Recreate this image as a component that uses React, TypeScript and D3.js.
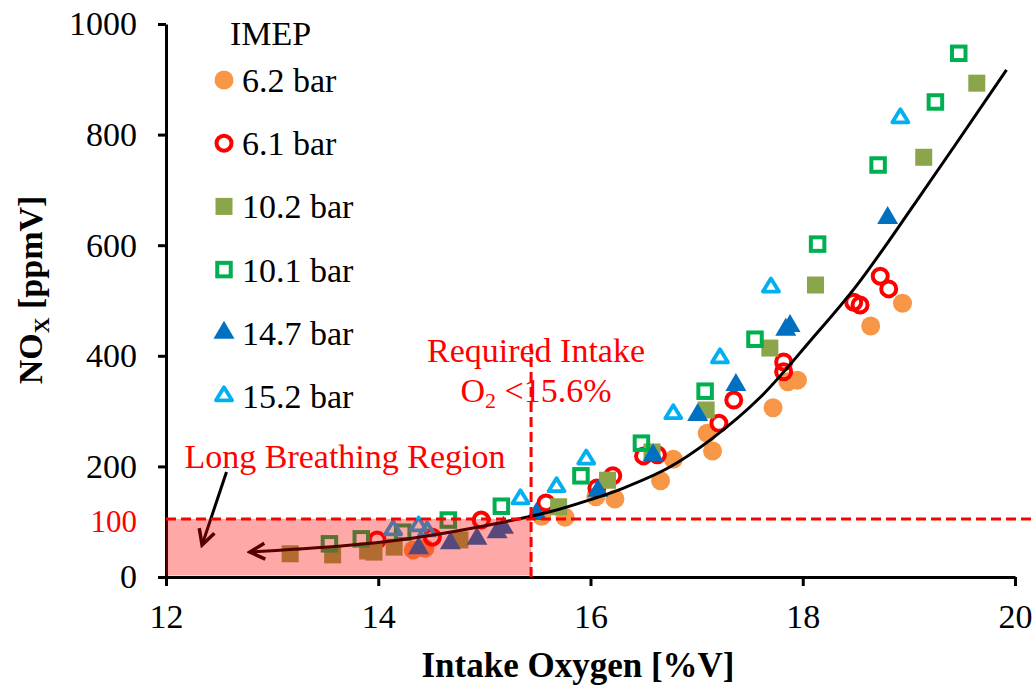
import { useEffect, useRef } from "react";
import * as d3 from "d3";

// intake O2 [%V], NOx [ppmV]
const imep62: [number, number][] = [
  [14.33, 49], [14.44, 52], [15.54, 110], [15.76, 108], [16.05, 145], [16.23, 141],
  [16.66, 174], [16.78, 213], [17.15, 228], [17.10, 260], [17.72, 306], [17.86, 353],
  [17.95, 356], [18.64, 454], [18.94, 495],
];
const imep61: [number, number][] = [
  [13.99, 67], [14.51, 72], [14.97, 103], [15.58, 134], [16.06, 161], [16.21, 183],
  [16.50, 219], [16.63, 221], [17.21, 278], [17.35, 320], [17.82, 371], [17.82, 389],
  [18.48, 497], [18.54, 492], [18.73, 544], [18.81, 521],
];
const imep102: [number, number][] = [
  [13.17, 42], [13.57, 40], [13.90, 47], [13.96, 45], [14.15, 54], [14.77, 67],
  [15.70, 127], [16.16, 175], [16.58, 226], [17.09, 302], [17.69, 414], [18.12, 528],
  [19.14, 759], [19.64, 893],
];
const imep101: [number, number][] = [
  [13.54, 60], [13.84, 69], [14.23, 81], [14.66, 103], [15.16, 128], [15.91, 183],
  [16.48, 242], [17.08, 336], [17.55, 430], [18.14, 602], [18.71, 745], [19.25, 859],
  [19.47, 947],
];
const imep147: [number, number][] = [
  [14.38, 52], [14.68, 61], [14.93, 69], [15.12, 81], [15.18, 89], [15.49, 114],
  [16.07, 156], [16.59, 220], [17.01, 293], [17.37, 347], [17.84, 447], [17.88, 454],
  [18.80, 649],
];
const imep152: [number, number][] = [
  [14.14, 85], [14.38, 92], [14.46, 83], [15.34, 141], [15.68, 163], [15.96, 213],
  [16.78, 295], [17.22, 396], [17.70, 524], [18.92, 830],
];

// trend line
const trend: [number, number][] = [
  [12.79, 45], [13.2, 50], [13.7, 57], [14.2, 67], [14.7, 82], [15.2, 100], [15.6, 117],
  [16.0, 140], [16.3, 160], [16.73, 197], [17.13, 248], [17.6, 325], [18.08, 429],
  [18.5, 525], [19.08, 682], [19.92, 917],
];

const xTicks = [12, 14, 16, 18, 20];
const yTicks = [0, 200, 400, 600, 800, 1000];
const legendLabels = ["6.2 bar", "6.1 bar", "10.2 bar", "10.1 bar", "14.7 bar", "15.2 bar"];

const requiredO2 = 15.44;
const noxLimit = 105;

const font = "'Liberation Serif', 'Times New Roman', serif";

type Shape = "circle" | "square" | "triangle";
const series = [
  { data: imep62, shape: "circle" as Shape, color: "#F79646", open: false },
  { data: imep61, shape: "circle" as Shape, color: "#FF0000", open: true },
  { data: imep102, shape: "square" as Shape, color: "#8BA54A", open: false },
  { data: imep101, shape: "square" as Shape, color: "#00B050", open: true },
  { data: imep147, shape: "triangle" as Shape, color: "#0070C0", open: false },
  { data: imep152, shape: "triangle" as Shape, color: "#00B0F0", open: true },
];

const drawMarker = (g: any, s: (typeof series)[number], cx: number, cy: number) => {
  if (s.shape === "circle") {
    g.append("circle")
      .attr("cx", cx)
      .attr("cy", cy)
      .attr("r", s.open ? 7.5 : 9.5)
      .attr("fill", s.open ? "none" : s.color)
      .attr("stroke", s.open ? s.color : "none")
      .attr("stroke-width", 4);
  } else if (s.shape === "square") {
    const sz = s.open ? 13.5 : 17;
    g.append("rect")
      .attr("x", cx - sz / 2)
      .attr("y", cy - sz / 2)
      .attr("width", sz)
      .attr("height", sz)
      .attr("fill", s.open ? "none" : s.color)
      .attr("stroke", s.open ? s.color : "none")
      .attr("stroke-width", 4);
  } else {
    const w = s.open ? 16 : 21;
    const h = s.open ? 13 : 18;
    const p = `M${cx},${cy - (h * 2) / 3}L${cx + w / 2},${cy + h / 3}L${cx - w / 2},${cy + h / 3}Z`;
    g.append("path")
      .attr("d", p)
      .attr("fill", s.open ? "none" : s.color)
      .attr("stroke", s.open ? s.color : "none")
      .attr("stroke-width", 3.8)
      .attr("stroke-linejoin", "round");
  }
};

const Chart = () => {
  const svgRef = useRef<SVGSVGElement | null>(null);

  useEffect(() => {
    const svg = d3.select(svgRef.current);
    svg.selectAll("*").remove();

    const x = d3.scaleLinear().domain([12, 20]).range([166, 1015]);
    const y = d3.scaleLinear().domain([0, 1000]).range([577, 24]);

    // open arrow head, tip at the path end
    const defs = svg.append("defs");
    defs
      .append("marker")
      .attr("id", "arr")
      .attr("viewBox", "-19 -10 22 20")
      .attr("refX", 0)
      .attr("refY", 0)
      .attr("markerUnits", "userSpaceOnUse")
      .attr("markerWidth", 22)
      .attr("markerHeight", 20)
      .attr("orient", "auto-start-reverse")
      .append("path")
      .attr("d", "M-15,-8L0,0L-15,8")
      .attr("fill", "none")
      .attr("stroke", "black")
      .attr("stroke-width", 3.5);

    // axes
    const yAxis = d3
      .axisLeft(y)
      .tickValues(yTicks)
      .tickSize(8)
      .tickSizeOuter(0)
      .tickPadding(21)
      .tickFormat((d: any) => String(d));
    const xAxis = d3
      .axisBottom(x)
      .tickValues(xTicks)
      .tickSize(9)
      .tickSizeOuter(0)
      .tickPadding(18)
      .tickFormat((d: any) => String(d));
    const gy = svg.append("g").attr("transform", `translate(166,0)`).call(yAxis);
    const gx = svg.append("g").attr("transform", `translate(0,577)`).call(xAxis);
    [gx, gy].forEach((g) => {
      g.attr("font-family", font);
      g.select(".domain").attr("stroke-width", 3);
      g.selectAll(".tick line").attr("stroke-width", 3);
      g.selectAll("text").attr("font-family", font).attr("font-size", 34).attr("fill", "black");
    });

    svg
      .append("text")
      .attr("x", 137)
      .attr("y", y(100))
      .attr("dy", "0.33em")
      .attr("text-anchor", "end")
      .attr("font-family", font)
      .attr("font-size", 31)
      .attr("fill", "#FF0000")
      .text("100");

    // data
    series.forEach((s) => {
      const g = svg.append("g");
      s.data.forEach(([dx, dy]) => drawMarker(g, s, x(dx), y(dy)));
    });

    const line = d3
      .line<[number, number]>()
      .x((d) => x(d[0]))
      .y((d) => y(d[1]))
      .curve(d3.curveCatmullRom);
    svg
      .append("path")
      .attr("d", line(trend))
      .attr("fill", "none")
      .attr("stroke", "black")
      .attr("stroke-width", 3)
      .attr("marker-start", "url(#arr)");

    // pointer from label
    svg
      .append("line")
      .attr("x1", x(12.57))
      .attr("y1", y(190))
      .attr("x2", x(12.34))
      .attr("y2", y(58))
      .attr("stroke", "black")
      .attr("stroke-width", 3)
      .attr("marker-end", "url(#arr)");

    // long breathing region shading (on top of marks)
    svg
      .append("rect")
      .attr("x", x(12))
      .attr("y", y(noxLimit))
      .attr("width", x(requiredO2) - x(12))
      .attr("height", y(0) - 1.5 - y(noxLimit))
      .attr("fill", "#FF0000")
      .attr("fill-opacity", 0.34);

    svg
      .append("line")
      .attr("x1", x(12))
      .attr("x2", x(20.2))
      .attr("y1", y(noxLimit))
      .attr("y2", y(noxLimit))
      .attr("stroke", "#FF0000")
      .attr("stroke-width", 3)
      .attr("stroke-dasharray", "10,5");
    svg
      .append("line")
      .attr("x1", x(requiredO2))
      .attr("x2", x(requiredO2))
      .attr("y1", y(0))
      .attr("y2", y(422))
      .attr("stroke", "#FF0000")
      .attr("stroke-width", 3)
      .attr("stroke-dasharray", "10,5");

    // annotations
    const red = (tx: number, ty: number, t: string) =>
      svg
        .append("text")
        .attr("x", tx)
        .attr("y", ty)
        .attr("text-anchor", "middle")
        .attr("font-family", font)
        .attr("font-size", 34)
        .attr("fill", "#FF0000")
        .text(t);
    red(345, 468, "Long Breathing Region");
    red(536, 362, "Required Intake");
    const o2 = svg
      .append("text")
      .attr("x", 536)
      .attr("y", 402)
      .attr("text-anchor", "middle")
      .attr("font-family", font)
      .attr("font-size", 34)
      .attr("fill", "#FF0000");
    o2.append("tspan").text("O");
    o2.append("tspan").attr("font-size", 22).attr("dy", 6).text("2");
    o2.append("tspan").attr("dy", -6).text(" <15.6%");

    // legend
    svg
      .append("text")
      .attr("x", 230)
      .attr("y", 45)
      .attr("font-family", font)
      .attr("font-size", 34)
      .text("IMEP");
    series.forEach((s, i) => {
      const cy = 80 + i * 63.2;
      const g = svg.append("g");
      drawMarker(g, s, 224, cy);
      g.append("text")
        .attr("x", 242)
        .attr("y", cy)
        .attr("dy", "0.35em")
        .attr("font-family", font)
        .attr("font-size", 34)
        .text(legendLabels[i]);
    });

    // axis titles
    const yt = svg
      .append("text")
      .attr("transform", `translate(42,290) rotate(-90)`)
      .attr("text-anchor", "middle")
      .attr("font-family", font)
      .attr("font-weight", "bold")
      .attr("font-size", 34);
    yt.append("tspan").text("NO");
    yt.append("tspan").attr("font-size", 22).attr("dy", 7).text("X");
    yt.append("tspan").attr("dy", -7).text(" [ppmV]");

    svg
      .append("text")
      .attr("x", 578)
      .attr("y", 677)
      .attr("text-anchor", "middle")
      .attr("font-family", font)
      .attr("font-weight", "bold")
      .attr("font-size", 35)
      .text("Intake Oxygen [%V]");
  }, []);

  return (
    <svg
      ref={svgRef}
      width={1036}
      height={689}
      style={{ position: "absolute", left: 0, top: 0, background: "white" }}
    ></svg>
  );
};

export default function App() {
  return <Chart />;
}
